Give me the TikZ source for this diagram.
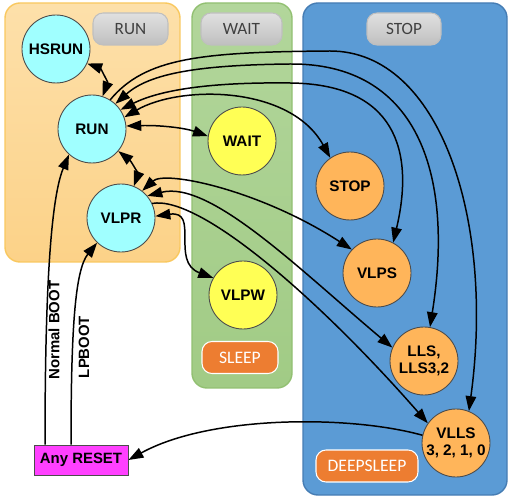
\documentclass[tikz,border=0pt]{standalone}
\usepackage{fontspec}
\setmainfont{Liberation Sans}
\newfontfamily\tagfont{Carlito}
\usetikzlibrary{arrows.meta}

\definecolor{runtop}{RGB}{253,224,170}
\definecolor{runbottom}{RGB}{252,210,136}
\definecolor{runline}{RGB}{249,200,95}
\definecolor{waittop}{RGB}{178,214,155}
\definecolor{waitbottom}{RGB}{161,203,133}
\definecolor{waitline}{RGB}{146,192,114}
\definecolor{stopfill}{RGB}{91,155,213}
\definecolor{stopline}{RGB}{70,125,180}
\definecolor{cyanmode}{RGB}{160,255,255}
\definecolor{yellowmode}{RGB}{255,255,85}
\definecolor{orangemode}{RGB}{255,181,90}
\definecolor{sleeporange}{RGB}{237,125,49}
\definecolor{resetpink}{RGB}{255,64,255}

\begin{document}
\begin{tikzpicture}[x=0.02cm, y=-0.02cm, >={Triangle[length=8.5pt,width=6pt]}]
% Define the node styles
\tikzstyle{zone} = [rounded corners=0.3cm, line width=0.8pt]
\tikzstyle{runzone} = [zone, draw=runline, top color=runtop, bottom color=runbottom]
\tikzstyle{waitzone} = [zone, draw=waitline, top color=waittop, bottom color=waitbottom]
\tikzstyle{stopzone} = [zone, draw=stopline, fill=stopfill]
\tikzstyle{tag} = [rounded corners=0.2cm, minimum height=0.64cm, inner sep=0pt, line width=0.6pt]
\tikzstyle{graytag} = [tag, draw=black!25, top color=black!12, bottom color=black!25, text=black!75, font=\tagfont\fontsize{9.8}{11}\selectfont]
\tikzstyle{sleeptag} = [tag, draw=white, fill=sleeporange, text=white, font=\tagfont\fontsize{10}{12}\selectfont]
\tikzstyle{mode} = [draw=black!70, circle, minimum size=1.36cm, inner sep=0pt, line width=0.5pt, align=center, font=\fontsize{8.7}{9.6}\selectfont\bfseries]
\tikzstyle{runmode} = [mode, fill=cyanmode]
\tikzstyle{waitmode} = [mode, fill=yellowmode]
\tikzstyle{stopmode} = [mode, fill=orangemode]
\tikzstyle{reset} = [draw=black!70, fill=resetpink, line width=0.5pt, minimum width=1.88cm, minimum height=0.6cm, inner sep=0pt, font=\fontsize{8.5}{10}\selectfont\bfseries]
\tikzstyle{boot} = [rotate=90, inner sep=0pt, font=\fontsize{8.5}{10}\selectfont\bfseries]
\tikzstyle{trans} = [line width=0.85pt]

\useasboundingbox (0,0) rectangle (510,499);

% Define the domains
\draw[runzone] (5,3) rectangle (180,262);
\draw[waitzone] (192,3) rectangle (292,388);
\draw[stopzone] (303,3) rectangle (507,495);

\node[graytag, minimum width=1.5cm] (tagrun) at (130.5,29) {RUN};
\node[graytag, minimum width=1.62cm] (tagwait) at (241.5,29) {WAIT};
\node[graytag, minimum width=1.48cm] (tagstop) at (404,29) {STOP};
\node[sleeptag, minimum width=1.52cm] (tagsleep) at (240,357.5) {SLEEP};
\node[sleeptag, minimum width=2.04cm] (tagdeep) at (367,466) {DEEPSLEEP};

% Define the nodes
\node[runmode] (HSRUN) at (56,49) {HSRUN};
\node[runmode] (RUN) at (92,129) {RUN};
\node[runmode] (VLPR) at (121,218) {VLPR};
\node[waitmode] (WAIT) at (242,141) {WAIT};
\node[waitmode] (VLPW) at (243,295) {VLPW};
\node[stopmode] (STOP) at (350,186) {STOP};
\node[stopmode] (VLPS) at (377,273) {VLPS};
\node[stopmode] (LLS) at (424,361) {LLS,\\LLS3,2};
\node[stopmode] (VLLS) at (456,443) {VLLS\\3, 2, 1, 0};
\node[reset] (RESET) at (81,460) {Any RESET};

\node[boot] (nboot) at (54,330) {Normal BOOT};
\node[boot] (lpboot) at (84,347) {LPBOOT};

% Define the transitions
\draw[trans, <->] (HSRUN.-25) .. controls (100,68) and (108,82) .. (RUN.72);
\draw[trans, <->] (RUN.5) .. controls (160,125) and (185,128) .. (WAIT.172);
\draw[trans, <->] (RUN.-40) .. controls (132,162) and (138,175) .. (VLPR.68);
\draw[trans, <->] (VLPR.3) .. controls (200,210) and (170,262) .. (VLPW.150);

\draw[trans, ->] (RUN.58) .. controls (145,58) and (200,52) .. (330,51) .. controls (440,51) and (495,220) .. (VLLS.68);
\draw[trans, <->] (RUN.47) .. controls (150,73) and (200,65) .. (290,64) .. controls (415,63) and (455,170) .. (LLS.80);
\draw[trans, <->] (RUN.34) .. controls (160,90) and (210,82) .. (290,83) .. controls (395,84) and (415,150) .. (VLPS.62);
\draw[trans, <->] (RUN.20) .. controls (180,85) and (290,85) .. (STOP.125);

\draw[trans, <->] (VLPR.52) .. controls (165,170) and (260,190) .. (VLPS.137);
\draw[trans, <->] (VLPR.40) .. controls (210,180) and (300,270) .. (LLS.157);
\draw[trans, ->] (VLPR.25) .. controls (200,195) and (320,300) .. (VLLS.145);

% Wake up through reset
\draw[trans, ->] (VLLS.167) .. controls (350,415) and (210,415) .. (RESET.east);
\draw[trans, ->] ([xshift=-0.72cm]RESET.north) .. controls (45,300) and (50,200) .. (RUN.228);
\draw[trans, ->] ([xshift=-0.2cm]RESET.north) .. controls (71,330) and (75,270) .. (VLPR.226);

\end{tikzpicture}
\end{document}
